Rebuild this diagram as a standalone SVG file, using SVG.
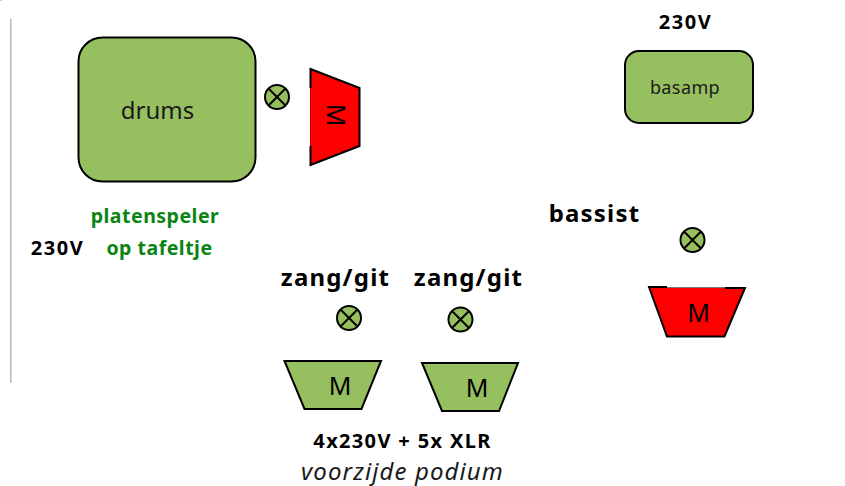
<svg xmlns="http://www.w3.org/2000/svg" width="845" height="486" viewBox="0 0 845 486">
<style>
.s{stroke:#000;stroke-width:2;fill:#96bf60}
.r{fill:#f00;stroke:none}
.l{fill:none;stroke:#000;stroke-width:2}
text{font-family:"Noto Sans","Open Sans",sans-serif;fill:#1a1a1a}
.b{font-weight:700;fill:#000}
.g{fill:#0a8412;font-size:19.5px;letter-spacing:.5px}
.t{font-size:24px;letter-spacing:1.2px}
.v{font-size:20px;letter-spacing:1.6px}
.m{font-size:25px;fill:#000}
</style>
<defs>
<g id="x"><circle class="s" r="12"/><path class="l" d="M-8-8L8 8M-8 8L8-8"/></g>
</defs>
<rect x="0" y="0" width="2" height="1" fill="#ccc"/>
<rect x="10" y="19" width="1.600" height="364" fill="#bbb"/>
<g id="drums"><rect class="s" x="78.500" y="37.500" width="177" height="144" rx="24"/><text x="157.500" y="119" font-size="24" text-anchor="middle">drums</text></g>
<g id="mon-drums"><path class="r" d="M310.500 69L359.500 88V146L310.500 165Z"/><path class="l" d="M310.500 88V69L359.500 88V146L310.500 165V146"/><path d="M310.500 88V146" stroke="#b00" stroke-width="1" fill="none"/><text class="m" transform="translate(327 115) rotate(90)" text-anchor="middle">M</text></g>
<g id="mic-drums"><use href="#x" x="277" y="97"/></g>
<g id="basamp"><rect class="s" x="625" y="51" width="128" height="72" rx="14"/><text x="685" y="94" font-size="18" letter-spacing=".4" text-anchor="middle">basamp</text></g>
<g id="mic-bass"><use href="#x" x="692.500" y="240"/></g>
<g id="mon-bass"><path class="r" d="M649 287.500H745L724.500 336.500H667Z"/><path class="l" d="M667 287H649L667 336.500H724.500L745 288H725"/><path d="M667 287.500H725" stroke="#777" stroke-width="1" fill="none"/><text class="m" x="698.500" y="322" text-anchor="middle">M</text></g>
<g id="mic-1"><use href="#x" x="349" y="318"/></g>
<g id="mic-2"><use href="#x" x="460.500" y="319.500"/></g>
<g id="mon-1"><path class="s" d="M284.500 361H381L361.500 409H304.500Z"/><text class="m" x="340" y="395" text-anchor="middle">M</text></g>
<g id="mon-2"><path class="s" d="M422 363H518L499 411H442Z"/><text class="m" x="477" y="397" text-anchor="middle">M</text></g>
<g id="labels">
<text class="b v" x="685.500" y="29" text-anchor="middle">230V</text>
<text class="b v" x="57.500" y="255" text-anchor="middle">230V</text>
<text class="b g" x="155" y="223" text-anchor="middle">platenspeler</text>
<text class="b g" x="159.500" y="255" text-anchor="middle">op tafeltje</text>
<text class="b t" x="594.500" y="222" text-anchor="middle">bassist</text>
<text class="b t" x="335.500" y="286" text-anchor="middle">zang/git</text>
<text class="b t" x="468.500" y="286" text-anchor="middle">zang/git</text>
<text class="b" x="402.500" y="448" font-size="20" letter-spacing="1.350" text-anchor="middle">4x230V + 5x XLR</text>
<text x="402.500" y="480" font-size="24" font-style="italic" letter-spacing="1.100" text-anchor="middle">voorzijde podium</text>
</g>
</svg>
